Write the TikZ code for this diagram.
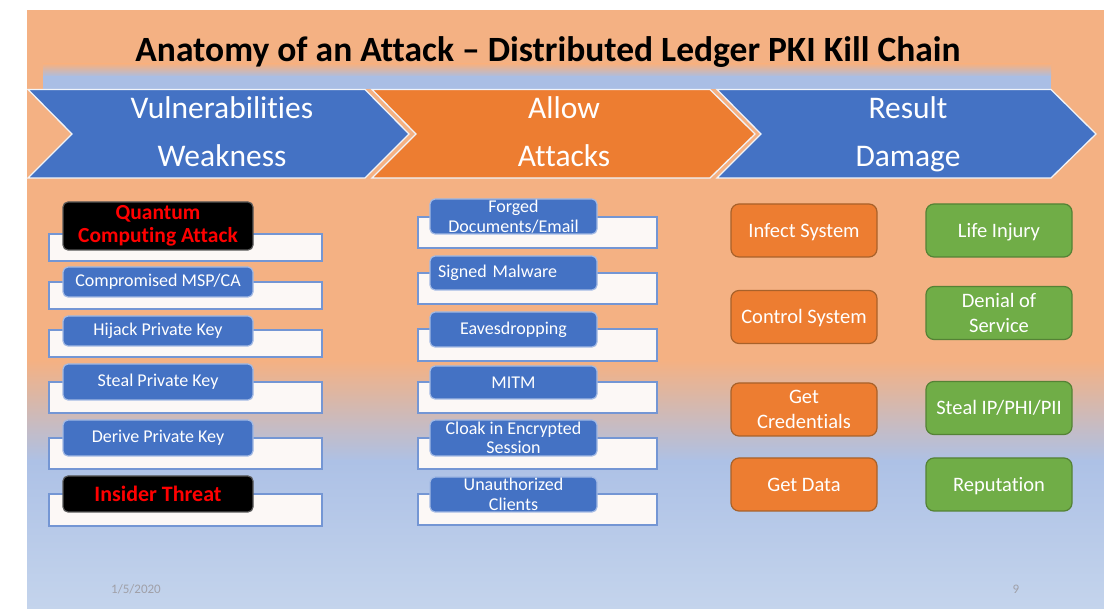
\documentclass[tikz,border=0pt]{standalone}
\usepackage{fontspec}
\setmainfont{Carlito}[Ligatures={NoCommon}]
\newcommand{\pxfont}[2]{\fontsize{#1pt}{#2pt}\selectfont}
\definecolor{bgorange}{HTML}{F4B183}
\definecolor{bgblue}{HTML}{ADC1E6}
\definecolor{bgbluelight}{HTML}{C4D4EC}
\definecolor{barblue}{HTML}{A9BEE5}
\definecolor{chevblue}{HTML}{4472C4}
\definecolor{chevorange}{HTML}{ED7D31}
\definecolor{boxgreen}{HTML}{70AD47}
\definecolor{greenline}{HTML}{548235}
\definecolor{orangeline}{HTML}{A8612A}
\definecolor{slotline}{HTML}{7496D4}
\definecolor{slotfill}{HTML}{FCF8F6}
\definecolor{tagline}{HTML}{A3BAE4}
\definecolor{footgray}{HTML}{A0A0A8}
\begin{document}
\begin{tikzpicture}[x=1pt,y=-1pt,
  chev/.style={draw=white!92!chevblue, line width=1.3pt, line join=miter},
  chevtext/.style={text=white, anchor=base, font=\pxfont{31.5}{36}},
  slot/.style={draw=slotline, fill=slotfill, line width=1.3pt, inner sep=0pt, outer sep=0pt},
  tag/.style={fill=chevblue, draw=tagline, line width=1.2pt, rounded corners=5pt,
    text=white, inner sep=0pt, outer sep=0pt, align=center, font=\pxfont{18}{19.5}},
  threat/.style={tag, fill=black, draw=black!65, text=red, font=\bfseries\pxfont{21.5}{23}},
  effect/.style={rounded corners=8pt, line width=1.2pt, inner sep=0pt, outer sep=0pt,
    minimum width=146, minimum height=53, text=white, align=center, font=\pxfont{20.5}{24.5}},
  oneline/.style={text height=15pt, text depth=1pt},
  attackfx/.style={effect, fill=chevorange, draw=orangeline},
  damagefx/.style={effect, fill=boxgreen, draw=greenline},
  foot/.style={text=footgray, anchor=base, font=\pxfont{13}{15}}
]
\useasboundingbox (0,0) rectangle (1104,609);
\fill[white] (0,0) rectangle (1104,609);

% slide background: orange fading into blue
\fill[bgorange] (27,10) rectangle (1104,362);
\shade[top color=bgorange, bottom color=bgblue] (27,361) rectangle (1104,462);
\shade[top color=bgblue, bottom color=bgbluelight] (27,461) rectangle (1104,609);

% band above the chevrons
\shade[top color=bgorange, bottom color=barblue] (43,64) rectangle (1051,77);
\fill[barblue] (43,76.5) rectangle (1051,89);

% title
\node[anchor=base, font=\bfseries\pxfont{35.5}{40}] (title) at (548,62)
  {Anatomy of an Attack – Distributed Ledger PKI Kill Chain};

% kill chain chevrons
\filldraw[chev, fill=chevblue]   (28,89.5) -- (365,89.5) -- (409,134) -- (365,178) -- (28,178) -- (72,134) -- cycle;
\filldraw[chev, fill=chevorange] (372,89.5) -- (710,89.5) -- (755,134) -- (710,178) -- (372,178) -- (416,134) -- cycle;
\filldraw[chev, fill=chevblue]   (717,89.5) -- (1051,89.5) -- (1096,134) -- (1051,178) -- (717,178) -- (761,134) -- cycle;

\node[chevtext] (c1a) at (222,119) {Vulnerabilities};
\node[chevtext] (c1b) at (222,167) {Weakness};
\node[chevtext] (c2a) at (564,119) {Allow};
\node[chevtext] (c2b) at (564,167) {Attacks};
\node[chevtext] (c3a) at (908,119) {Result};
\node[chevtext] (c3b) at (908,167) {Damage};

% vulnerabilities column
\node[slot, minimum width=273, minimum height=27] (ls1) at (185.5,247.5) {};
\node[slot, minimum width=273, minimum height=27] (ls2) at (185.5,295.5) {};
\node[slot, minimum width=273, minimum height=27] (ls3) at (185.5,343.5) {};
\node[slot, minimum width=273, minimum height=31] (ls4) at (185.5,397.5) {};
\node[slot, minimum width=273, minimum height=31] (ls5) at (185.5,453.5) {};
\node[slot, minimum width=273, minimum height=32] (ls6) at (185.5,510) {};

\node[threat, minimum width=190, minimum height=48] (lt1) at (158,226) {Quantum\\Computing Attack};
\node[tag, minimum width=190, minimum height=30] (lt2) at (158,282) {Compromised MSP/CA};
\node[tag, minimum width=190, minimum height=30] (lt3) at (158,331) {Hijack Private Key};
\node[tag, minimum width=190, minimum height=36] (lt4) at (158,382) {Steal Private Key};
\node[tag, minimum width=190, minimum height=36] (lt5) at (158,438) {Derive Private Key};
\node[threat, minimum width=190, minimum height=36, font=\bfseries\pxfont{22}{24}] (lt6) at (158,494) {Insider Threat};

% attacks column
\node[slot, minimum width=239, minimum height=31] (ms1) at (537.5,232.5) {};
\node[slot, minimum width=239, minimum height=31] (ms2) at (537.5,288.5) {};
\node[slot, minimum width=239, minimum height=32] (ms3) at (537.5,345) {};
\node[slot, minimum width=239, minimum height=31] (ms4) at (537.5,397.5) {};
\node[slot, minimum width=239, minimum height=31] (ms5) at (537.5,453.5) {};
\node[slot, minimum width=239, minimum height=31] (ms6) at (537.5,509.5) {};

\node[tag, minimum width=167, minimum height=35] (mt1) at (513.5,216.5) {Forged\\Documents/Email};
\node[tag, minimum width=167, minimum height=34, align=left, text width=151] (mt2) at (513.5,273) {Signed Malware};
\node[tag, minimum width=167, minimum height=35] (mt3) at (513.5,329.5) {Eavesdropping};
\node[tag, minimum width=167, minimum height=33] (mt4) at (513.5,382.5) {MITM};
\node[tag, minimum width=167, minimum height=36] (mt5) at (513.5,438) {Cloak in Encrypted\\Session};
\node[tag, minimum width=167, minimum height=35] (mt6) at (513.5,494.5) {Unauthorized\\Clients};

% damage columns
\node[attackfx, oneline] (ra1) at (804,230.5) {Infect System};
\node[attackfx, oneline] (ra2) at (804,317) {Control System};
\node[attackfx] (ra3) at (804,409.5) {Get\\Credentials};
\node[attackfx, oneline] (ra4) at (804,484.5) {Get Data};

\node[damagefx, oneline] (rd1) at (999,230.5) {Life Injury};
\node[damagefx] (rd2) at (999,313) {Denial of\\Service};
\node[damagefx, oneline] (rd3) at (999,408) {Steal IP/PHI/PII};
\node[damagefx, oneline] (rd4) at (999,484.5) {Reputation};

% footer
\node[foot] (date) at (136,593) {1/5/2020};
\node[foot] (page) at (1016,593) {9};
\end{tikzpicture}
\end{document}
